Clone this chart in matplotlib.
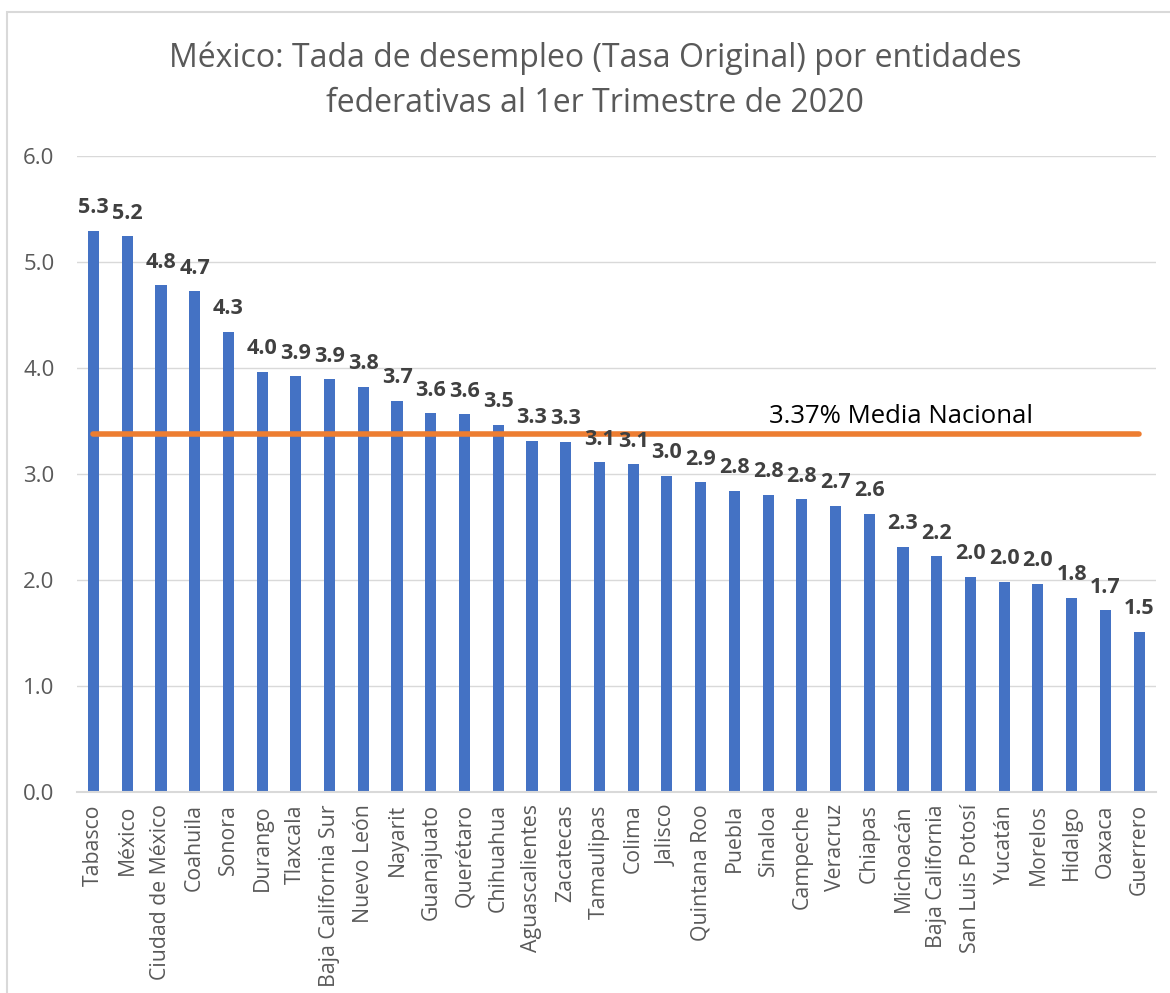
import matplotlib
matplotlib.use("Agg")
import matplotlib.pyplot as plt
import numpy as np
from matplotlib.patches import Rectangle

plt.rcParams["font.family"] = ["Open Sans", "DejaVu Sans"]

# ── datos ────────────────────────────────────────────────────────────────
entidades = [
    "Tabasco", "México", "Ciudad de México", "Coahuila", "Sonora", "Durango",
    "Tlaxcala", "Baja California Sur", "Nuevo León", "Nayarit", "Guanajuato",
    "Querétaro", "Chihuahua", "Aguascalientes", "Zacatecas", "Tamaulipas",
    "Colima", "Jalisco", "Quintana Roo", "Puebla", "Sinaloa", "Campeche",
    "Veracruz", "Chiapas", "Michoacán", "Baja California", "San Luis Potosí",
    "Yucatán", "Morelos", "Hidalgo", "Oaxaca", "Guerrero",
]
tasa = [
    5.29, 5.24, 4.78, 4.72, 4.34, 3.96, 3.92, 3.89, 3.82, 3.69, 3.57,
    3.56, 3.46, 3.31, 3.30, 3.11, 3.09, 2.98, 2.92, 2.84, 2.80, 2.76,
    2.70, 2.62, 2.31, 2.22, 2.03, 1.98, 1.96, 1.83, 1.71, 1.51,
]
media_nacional = 3.37
yticks = [0.0, 1.0, 2.0, 3.0, 4.0, 5.0, 6.0]

BLUE = "#4472C4"
ORANGE = "#ED7D31"
GRAY_TXT = "#595959"

fig = plt.figure(figsize=(11.7, 9.93), dpi=100)
# marco del gráfico (se sale por la derecha y por abajo)
fig.patches.append(Rectangle((7 / 1170, -0.1), 1.2, 1 - 12 / 993 + 0.1,
                             transform=fig.transFigure, fill=False,
                             edgecolor="#D9D9D9", linewidth=1.5))

ax = fig.add_axes([0.0655, 0.2027, 0.988 - 0.0655, 0.8432 - 0.2027])
x = np.arange(len(entidades))
ax.bar(x, tasa, width=0.33, color=BLUE, zorder=2)

for xi, v in zip(x, tasa):
    ax.annotate(f"{v:.1f}", (xi, v), xytext=(0, 9), textcoords="offset points",
                ha="center", va="bottom", fontsize=15.5, fontweight="bold",
                color="#404040", zorder=4)

ax.plot([x[0], x[-1]], [media_nacional, media_nacional], color=ORANGE,
        linewidth=4, solid_capstyle="round", zorder=3)
ax.text(23.94, 3.54, f"{media_nacional:.2f}% Media Nacional",
        ha="center", va="center", fontsize=18.5, color="black")

ax.set_xlim(-0.5, len(entidades) - 0.5)
ax.set_ylim(0, 6)
ax.set_yticks(yticks)
ax.set_yticklabels([f"{t:.1f}" for t in yticks], fontsize=16, color=GRAY_TXT)
ax.set_xticks(x)
ax.set_xticklabels(entidades, rotation=90, fontsize=15.3, color=GRAY_TXT)
ax.tick_params(axis="both", length=0)
ax.tick_params(axis="x", pad=9)
ax.tick_params(axis="y", pad=16)
ax.grid(axis="y", color="#D9D9D9", linewidth=1, zorder=0)
for s in ["top", "right", "left"]:
    ax.spines[s].set_visible(False)
ax.spines["bottom"].set_color("#D9D9D9")
ax.spines["bottom"].set_linewidth(1.5)

fig.text(595 / 1170, 1 - 58 / 993, "México: Tada de desempleo (Tasa Original) por entidades",
         ha="center", va="center", fontsize=23, color=GRAY_TXT)
fig.text(595 / 1170, 1 - 103 / 993, "federativas al 1er Trimestre de 2020",
         ha="center", va="center", fontsize=23, color=GRAY_TXT)

fig.savefig("out.png", dpi=100)
